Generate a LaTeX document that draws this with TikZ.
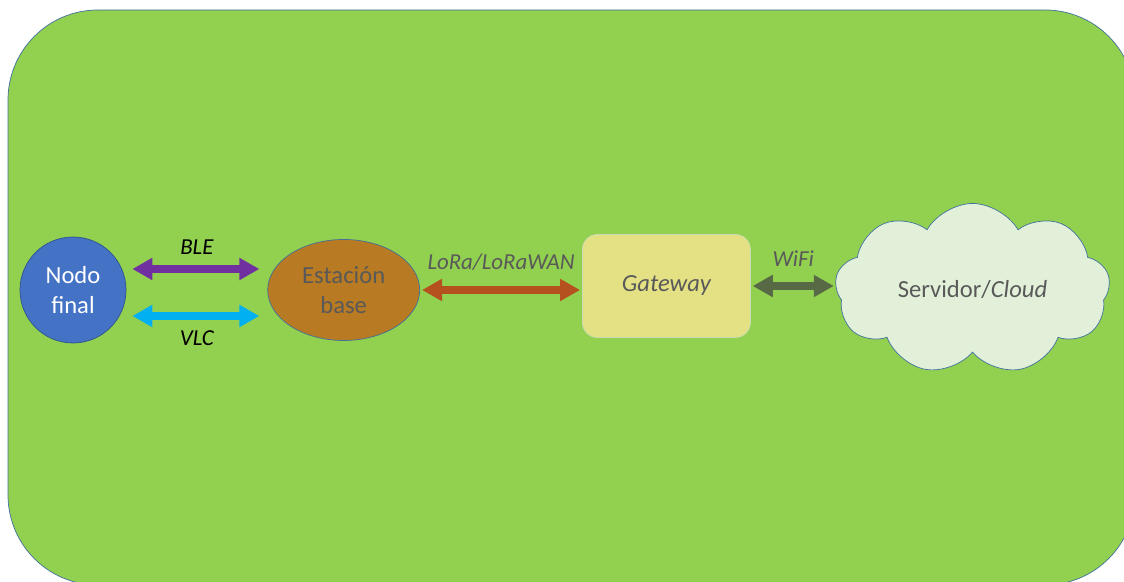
\documentclass[tikz,border=0pt]{standalone}
\usepackage{fontspec}
\setmainfont{Carlito}
\definecolor{bgGreen}{HTML}{92D050}
\definecolor{edgeBlue}{HTML}{41719C}
\definecolor{nodeBlue}{HTML}{4472C4}
\definecolor{nodeBlueDark}{HTML}{2F528F}
\definecolor{baseBrown}{HTML}{B87A22}
\definecolor{gwYellow}{HTML}{E4E184}
\definecolor{gwEdge}{HTML}{C9DCB4}
\definecolor{cloudGreen}{HTML}{E2F0D9}
\definecolor{txtGrey}{HTML}{595959}
\definecolor{bleViolet}{HTML}{7030A0}
\definecolor{vlcCyan}{HTML}{00B0F0}
\definecolor{loraRust}{HTML}{B5501F}
\definecolor{wifiOlive}{HTML}{586945}
\usetikzlibrary{arrows.meta,positioning,shapes.geometric,shapes.symbols}

\begin{document}
\begin{tikzpicture}[
        every node/.style={font=\fontsize{14}{17}\selectfont},
        link/.style={{Triangle[length=4mm,width=4.2mm]}-{Triangle[length=4mm,width=4.2mm]},
                     line width=4pt},
        lbl/.style={font=\fontsize{13}{15}\selectfont\itshape, text=txtGrey},
        tag/.style={font=\fontsize{13}{15}\selectfont\itshape, text=black}
      ]
        \useasboundingbox (0,0) rectangle (22.48,11.64);
        % green panel, cut by the page on the right and at the bottom
        \draw[edgeBlue, fill=bgGreen, rounded corners=1.8cm] (0.16,11.44) rectangle (22.7,-0.06);

        \node[circle, draw=nodeBlueDark, fill=nodeBlue, minimum size=2.12cm, inner sep=0pt,
              text=white, align=center] (nodo) at (1.46,5.84) {Nodo\\final};
        \node[ellipse, draw=edgeBlue, fill=baseBrown, minimum width=3.04cm, minimum height=2.02cm,
              inner sep=0pt, text=txtGrey, align=center, right=2.82cm of nodo] (estacion) {Estación\\base};
        \node[draw=gwEdge, fill=gwYellow, rounded corners=0.3cm, minimum width=3.36cm,
              minimum height=2.06cm, font=\fontsize{14}{17}\selectfont\itshape, text=txtGrey,
              right=3.24cm of estacion, yshift=0.08cm] (gateway) {Gateway};
        \node[cloud, cloud puffs=9, cloud puff arc=120, aspect=1.7, draw=edgeBlue, fill=cloudGreen,
              minimum width=5.5cm, minimum height=3.28cm, text=txtGrey,
              right=1.7cm of gateway, yshift=-0.06cm] (cloud) {Servidor/\textit{Cloud}};

        \draw[link, bleViolet, shorten <=0.12cm, shorten >=0.16cm]
          ([yshift=0.42cm]nodo.east) -- ([yshift=0.42cm]estacion.west)
          node[midway, above=3pt, tag] {BLE};
        \draw[link, vlcCyan, shorten <=0.12cm, shorten >=0.16cm]
          ([yshift=-0.52cm]nodo.east) -- ([yshift=-0.52cm]estacion.west)
          node[midway, below=3pt, tag] {VLC};
        \draw[link, loraRust, shorten <=0.04cm, shorten >=0.04cm]
          (estacion.east) -- (estacion.east -| gateway.west)
          node[midway, above=6pt, lbl] {LoRa/LoRaWAN};
        \draw[link, wifiOlive, shorten <=0.04cm, shorten >=0.04cm]
          (gateway.east) -- (gateway.east -| cloud.west)
          node[midway, above=6pt, lbl] {WiFi};
\end{tikzpicture}
\end{document}
